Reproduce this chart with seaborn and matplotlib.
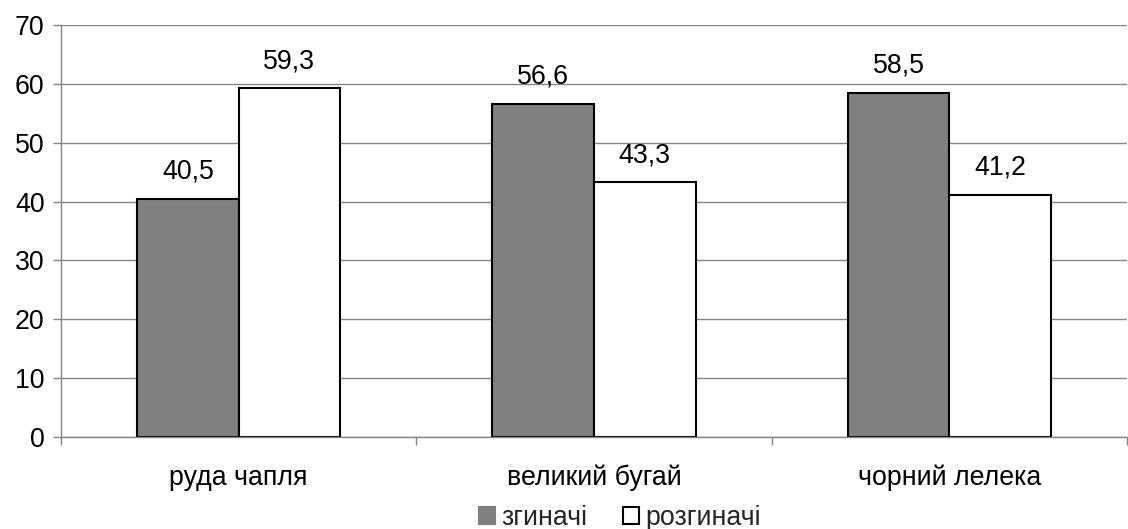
import matplotlib
matplotlib.use("Agg")
import matplotlib.pyplot as plt
from matplotlib.patches import Patch
import seaborn as sns
import pandas as pd

categories = ["руда чапля", "великий бугай", "чорний лелека"]
series = ["згиначі", "розгиначі"]
flexors = [40.5, 56.6, 58.5]
extensors = [59.3, 43.3, 41.2]
y_ticks = [0, 10, 20, 30, 40, 50, 60, 70]

df = pd.DataFrame({
    "category": categories * 2,
    "series": [series[0]] * 3 + [series[1]] * 3,
    "value": flexors + extensors,
})

sns.set_theme(style="white")
plt.rcParams["font.family"] = ["Liberation Sans", "DejaVu Sans"]

FS = 19.3
GRID = "#868686"
colors = {series[0]: "#808080", series[1]: "#ffffff"}

fig = plt.figure(figsize=(11.28, 5.29), dpi=100)
ax = fig.add_axes([61 / 1128, 1 - 437 / 529, (1127 - 61) / 1128, (437 - 25) / 529])

sns.barplot(data=df, x="category", y="value", hue="series", order=categories,
            hue_order=series, palette=colors, edgecolor="black", linewidth=1.5,
            width=2 / 3.5, gap=0, legend=False, ax=ax, zorder=3)

for container in ax.containers:
    labels = [f"{b.get_height():.1f}".replace(".", ",") for b in container]
    ax.bar_label(container, labels=labels, padding=10, fontsize=FS, color="black")

ax.set_xlim(-0.5, 2.5)
ax.set_ylim(0, 70)
ax.set_yticks(y_ticks)
ax.set_yticklabels([str(t) for t in y_ticks])
ax.set_xlabel("")
ax.set_ylabel("")

ax.yaxis.grid(True, color=GRID, linewidth=1.0, zorder=0)
ax.set_axisbelow(True)
for side in ["top", "right"]:
    ax.spines[side].set_visible(False)
for side in ["left", "bottom"]:
    ax.spines[side].set_color(GRID)
    ax.spines[side].set_linewidth(1.0)
ax.spines["bottom"].set_zorder(4)

ax.tick_params(axis="y", which="major", direction="out", length=5.8, width=1.0,
               color=GRID, labelsize=FS, labelcolor="black", pad=6, left=True)
ax.tick_params(axis="x", which="major", length=0, labelsize=FS,
               labelcolor="black", pad=20, bottom=True)
ax.set_xticks([-0.5, 0.5, 1.5, 2.5], minor=True)
ax.tick_params(axis="x", which="minor", direction="out", length=5.8, width=1.0,
               color=GRID, bottom=True)

handles = [Patch(facecolor=colors[s], edgecolor="black" if s == series[1] else colors[s],
                 linewidth=1.5) for s in series]
fig.legend(handles, series, loc="center", bbox_to_anchor=(620 / 1128, 1 - 518 / 529),
           ncol=2, frameon=False, fontsize=FS, handlelength=0.6, handleheight=0.6,
           handletextpad=0.25, columnspacing=1.3, borderpad=0)

fig.savefig("out.png", dpi=100, facecolor="white")
